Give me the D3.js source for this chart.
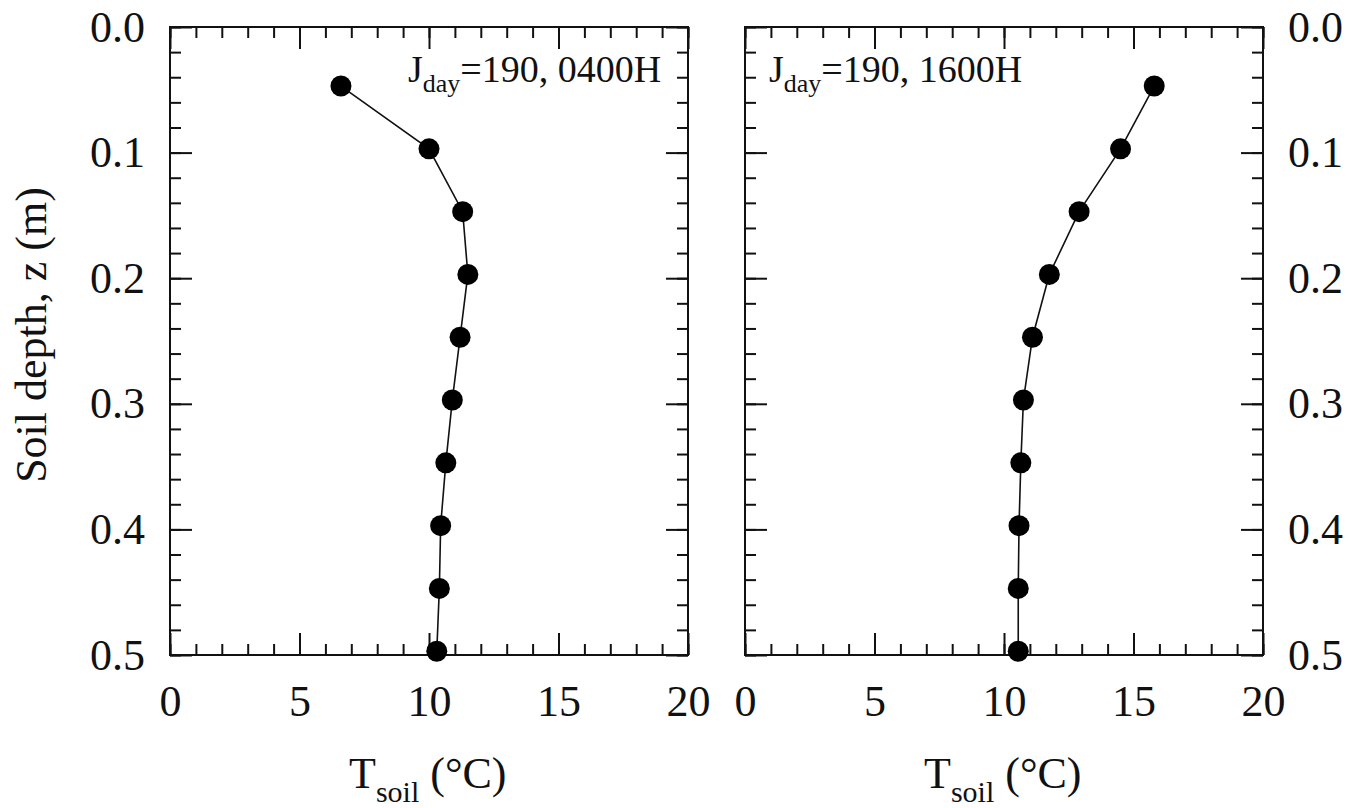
<!DOCTYPE html>
<html>
<head>
<meta charset="utf-8">
<script src="https://cdn.jsdelivr.net/npm/d3@7/dist/d3.min.js"></script>
<style>
  body { margin: 0; background: #fff; }
  text { font-family: "Liberation Serif", "Times New Roman", serif; fill: #111; }
</style>
</head>
<body>
<main></main>
<script>
// soil temperature profiles
let depth = [0.047, 0.097, 0.147, 0.197, 0.247, 0.297, 0.347, 0.397, 0.447, 0.497]
let temp0400 = [6.6, 10.0, 11.3, 11.5, 11.2, 10.9, 10.65, 10.45, 10.4, 10.3]
let temp1600 = [15.8, 14.5, 12.9, 11.75, 11.1, 10.75, 10.65, 10.58, 10.55, 10.55]

let xTicks = [0, 5, 10, 15, 20]
let yTicks = [0.0, 0.1, 0.2, 0.3, 0.4, 0.5]
let panelLabels = ["0400H", "1600H"]

//set dimensions
const svgWidth = 1350
const svgHeight = 808
const panelWidth = 518
const panelHeight = 628
const paddingTop = 27
const panelLefts = [170, 745]

const majorTick = 22
const minorTick = 11

let svg = d3.select("main")
    .append("svg")
    .attr("width", svgWidth)
    .attr("height", svgHeight)
    .style("display", "block")

let xScale = d3.scaleLinear().domain([0, 20]).range([0, panelWidth])
let yScale = d3.scaleLinear().domain([0, 0.5]).range([0, panelHeight])

let xMinor = d3.range(0, 20.01, 1)
let yMinor = d3.range(0, 0.5001, 0.02)

function styleAxis(g) {
    g.select(".domain").remove()
    g.selectAll("line").style("stroke", "#111").style("stroke-width", 2)
    g.selectAll("text").style("font-size", "44px").style("font-family", "Liberation Serif").attr("fill", "#111")
}

function drawPanel(i, temps) {
    let left = panelLefts[i]
    let graph = svg.append("g")
        .attr("transform", `translate(${left}, ${paddingTop})`)

    // minor ticks, all four sides pointing in
    graph.append("g").attr("transform", `translate(0, ${panelHeight})`)
        .call(d3.axisBottom(xScale).tickValues(xMinor).tickSize(-minorTick).tickFormat(""))
        .call(styleAxis)
    graph.append("g")
        .call(d3.axisTop(xScale).tickValues(xMinor).tickSize(-minorTick).tickFormat(""))
        .call(styleAxis)
    graph.append("g")
        .call(d3.axisLeft(yScale).tickValues(yMinor).tickSize(-minorTick).tickFormat(""))
        .call(styleAxis)
    graph.append("g").attr("transform", `translate(${panelWidth}, 0)`)
        .call(d3.axisRight(yScale).tickValues(yMinor).tickSize(-minorTick).tickFormat(""))
        .call(styleAxis)

    // major ticks
    let bottomAxis = graph.append("g").attr("transform", `translate(0, ${panelHeight})`)
        .call(d3.axisBottom(xScale).tickValues(xTicks).tickSize(-majorTick).tickFormat(d3.format("d")))
        .call(styleAxis)
    bottomAxis.selectAll("text").attr("y", 30).attr("dy", "0.71em")
    graph.append("g")
        .call(d3.axisTop(xScale).tickValues(xTicks).tickSize(-majorTick).tickFormat(""))
        .call(styleAxis)

    let leftAxis = d3.axisLeft(yScale).tickValues(yTicks).tickSize(-majorTick).tickFormat(d3.format(".1f"))
    let rightAxis = d3.axisRight(yScale).tickValues(yTicks).tickSize(-majorTick).tickFormat(d3.format(".1f"))
    let yl = graph.append("g").call(leftAxis).call(styleAxis)
    let yr = graph.append("g").attr("transform", `translate(${panelWidth}, 0)`).call(rightAxis).call(styleAxis)
    if (i == 0) {
        yl.selectAll("text").attr("x", -25)
        yr.selectAll("text").remove()
    } else {
        yr.selectAll("text").attr("x", 25)
        yl.selectAll("text").remove()
    }

    // frame
    graph.append("rect")
        .attr("width", panelWidth)
        .attr("height", panelHeight)
        .style("fill", "none")
        .style("stroke", "#111")
        .style("stroke-width", 2)

    // profile
    let points = depth.map((d, j) => ({ z: d, t: temps[j] }))
    let line = d3.line()
        .x(d => xScale(d.t))
        .y(d => yScale(d.z))
    graph.append("path")
        .datum(points)
        .attr("d", line)
        .style("fill", "none")
        .style("stroke", "#111")
        .style("stroke-width", 1.6)
    graph.append("g")
        .selectAll("circle")
        .data(points)
        .enter()
        .append("circle")
        .attr("cx", d => xScale(d.t))
        .attr("cy", d => yScale(d.z))
        .attr("r", 10.5)
        .style("fill", "#000")

    // panel label
    let label = svg.append("text")
        .attr("x", i == 0 ? 408 : 769)
        .attr("y", 82)
        .style("font-size", "38px")
    label.append("tspan").text("J")
    label.append("tspan").attr("dy", 10).style("font-size", "26px").text("day")
    label.append("tspan").attr("dy", -10).text("=190, " + panelLabels[i])

    // x axis title
    let title = svg.append("text")
        .attr("x", left + panelWidth / 2 - 80)
        .attr("y", 788)
        .style("font-size", "44px")
    title.append("tspan").text("T")
    title.append("tspan").attr("dy", 14).style("font-size", "30px").text("soil")
    title.append("tspan").attr("dy", -14).text(" (°C)")
}

drawPanel(0, temp0400)
drawPanel(1, temp1600)

// y axis title
svg.append("text")
    .attr("transform", `translate(46, ${paddingTop + 308}) rotate(-90)`)
    .attr("text-anchor", "middle")
    .style("font-size", "44px")
    .text("Soil depth, z (m)")
</script>
</body>
</html>
